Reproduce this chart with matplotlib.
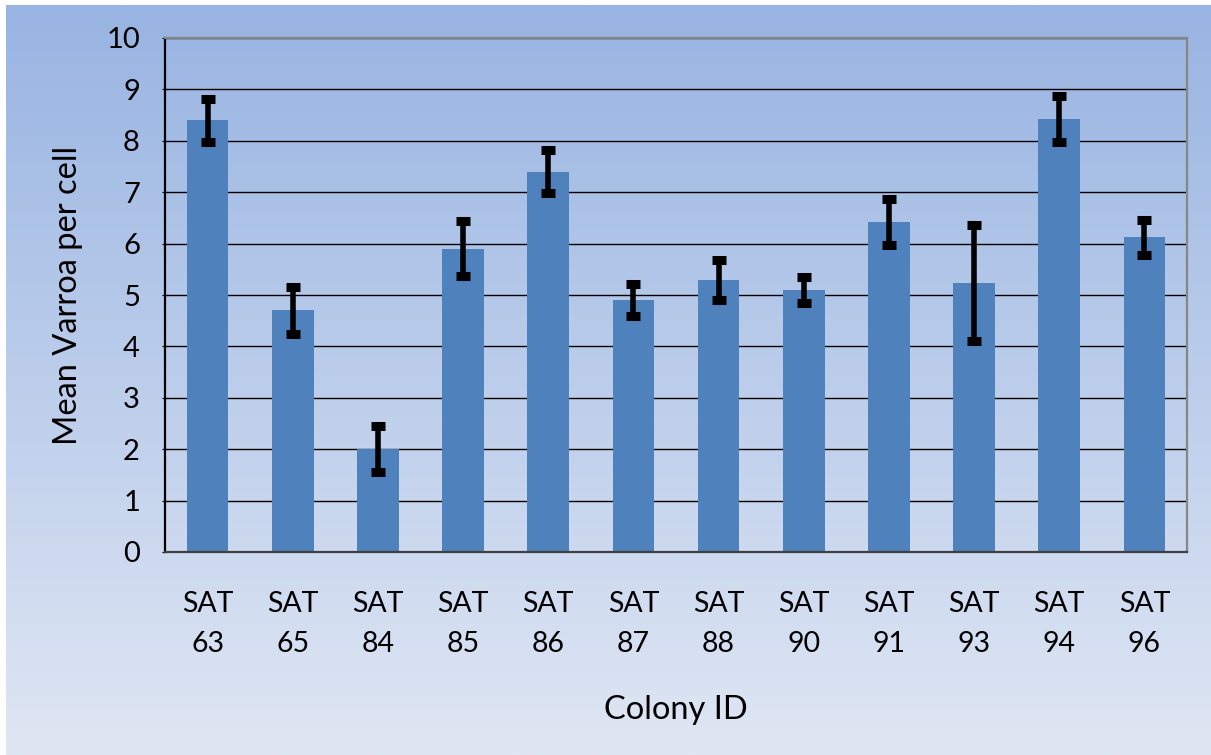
import numpy as np
import matplotlib
matplotlib.use("Agg")
import matplotlib.pyplot as plt
from matplotlib.colors import LinearSegmentedColormap

colonies = ["SAT\n63", "SAT\n65", "SAT\n84", "SAT\n85", "SAT\n86", "SAT\n87",
            "SAT\n88", "SAT\n90", "SAT\n91", "SAT\n93", "SAT\n94", "SAT\n96"]
means = [8.40, 4.70, 2.00, 5.90, 7.40, 4.90, 5.30, 5.10, 6.42, 5.24, 8.42, 6.12]
errors = [0.42, 0.45, 0.45, 0.54, 0.42, 0.31, 0.39, 0.25, 0.44, 1.13, 0.45, 0.34]

plt.rcParams['font.family'] = ['Lato', 'DejaVu Sans']

fig = plt.figure(figsize=(12.11, 7.55), dpi=100, facecolor="white")

# gradient background
bg = fig.add_axes([6 / 1211, 0, 1 - 6 / 1211, 1 - 5 / 755], zorder=0)
cmap = LinearSegmentedColormap.from_list("bg", ["#98b4e2", "#e0e7f4"])
bg.imshow(np.linspace(0, 1, 256).reshape(-1, 1), aspect="auto", cmap=cmap,
          extent=[0, 1, 0, 1], origin="upper")
bg.axis("off")

ax = fig.add_axes([165 / 1211, 1 - 552 / 755, 1022 / 1211, 514 / 755], zorder=1)
ax.patch.set_alpha(0)

x = np.arange(len(colonies))
ax.bar(x, means, width=0.49, color="#4f81bd", zorder=2)
ax.errorbar(x, means, yerr=errors, fmt="none", ecolor="black", elinewidth=4.0,
            capsize=4.8, capthick=6.5, zorder=3)

ax.set_xlim(-0.5, len(colonies) - 0.5)
ax.set_ylim(0, 10)
ax.set_yticks(range(0, 11))
ax.yaxis.grid(True, color="black", linewidth=1.0, zorder=1)
ax.set_axisbelow(True)

ax.set_xticks(x)
ax.set_xticklabels(colonies, fontsize=20.5, linespacing=1.65)
ax.tick_params(axis="x", length=0, pad=28)
ax.tick_params(axis="y", labelsize=21, length=4, direction="inout", pad=16)

ax.spines["left"].set_color("black")
ax.spines["bottom"].set_color("#404040")
ax.spines["top"].set_color("#868686")
ax.spines["right"].set_color("#868686")
for s in ax.spines.values():
    s.set_linewidth(1.6)

ax.set_ylabel("Mean Varroa per cell", fontsize=23.5, labelpad=17)
ax.set_xlabel("Colony ID", fontsize=23.5, labelpad=28)

fig.savefig("out.png", dpi=100, facecolor="white")
